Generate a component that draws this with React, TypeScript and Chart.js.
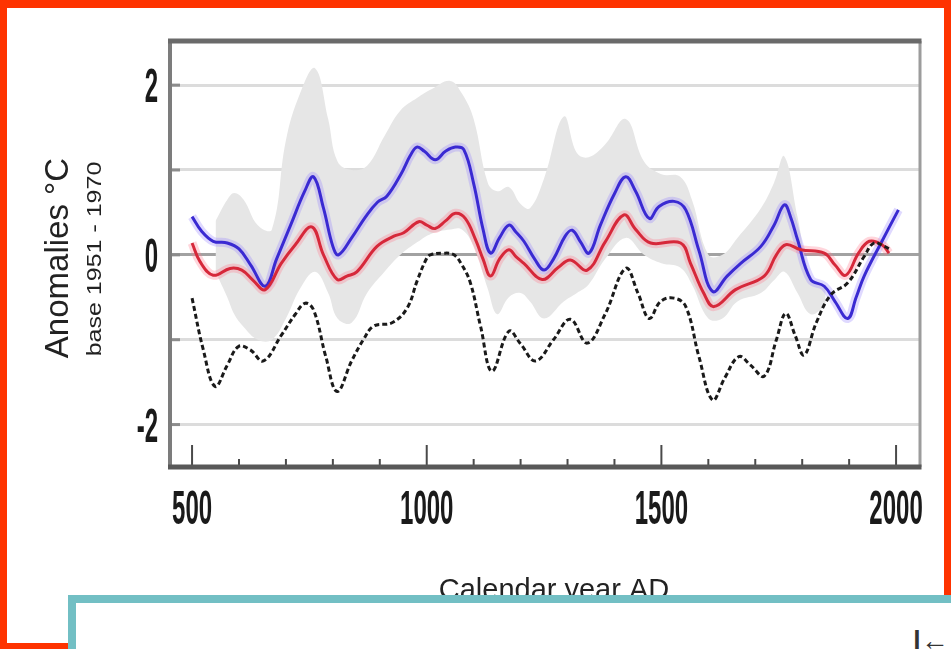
import React, { useEffect, useRef } from "react";
import { Chart, registerables } from "chart.js";

Chart.register(...registerables);

// ---- data ----
const xTickLabels = [500, 1000, 1500, 2000];
const xMinorTicks = [500, 600, 700, 800, 900, 1000, 1100, 1200, 1300, 1400, 1500, 1600, 1700, 1800, 1900, 2000];
const yGridValues = [-2, -1, 0, 1, 2];
const yTickLabels = [-2, 0, 2];

const bandYears = [550, 575, 590, 610, 640, 670, 700, 730, 762, 790, 810, 840, 873, 910, 944, 980, 1010, 1050, 1075, 1100, 1130, 1150, 1175, 1200, 1220, 1250, 1292, 1320, 1345, 1380, 1424, 1463, 1500, 1540, 1565, 1600, 1630, 1662, 1712, 1740, 1762, 1790, 1818, 1850];
const bandUpper = [0.40, 0.65, 0.73, 0.65, 0.35, 0.30, 1.35, 1.90, 2.20, 1.60, 1.10, 1.00, 1.05, 1.40, 1.70, 1.85, 1.95, 2.05, 1.90, 1.60, 0.85, 0.75, 0.80, 0.60, 0.55, 0.90, 1.63, 1.20, 1.15, 1.30, 1.60, 1.10, 0.95, 0.92, 0.65, 0.00, 0.00, 0.20, 0.55, 0.85, 1.16, 0.45, -0.25, -0.40];
const bandLower = [-0.20, -0.50, -0.70, -0.85, -1.00, -1.00, -0.75, -0.40, -0.20, -0.45, -0.75, -0.80, -0.45, -0.20, 0.00, 0.15, 0.25, 0.30, 0.30, 0.10, -0.40, -0.70, -0.50, -0.45, -0.55, -0.75, -0.55, -0.45, -0.35, -0.05, 0.20, 0.00, -0.10, -0.15, -0.35, -0.75, -0.75, -0.55, -0.45, -0.30, -0.20, -0.45, -0.70, -0.60];

const blueYears = [500, 520, 545, 575, 600, 625, 656, 680, 710, 740, 759, 780, 800, 812, 840, 870, 895, 915, 945, 965, 979, 995, 1018, 1040, 1061, 1079, 1100, 1120, 1136, 1155, 1175, 1190, 1207, 1230, 1250, 1270, 1295, 1310, 1328, 1346, 1370, 1400, 1424, 1445, 1474, 1495, 1527, 1552, 1580, 1609, 1640, 1669, 1712, 1740, 1762, 1775, 1790, 1818, 1847, 1870, 1897, 1915, 1932, 1968, 2005];
const blueValues = [0.45, 0.28, 0.16, 0.14, 0.07, -0.12, -0.37, -0.05, 0.35, 0.75, 0.92, 0.55, 0.10, 0.00, 0.20, 0.45, 0.62, 0.69, 0.95, 1.17, 1.27, 1.22, 1.12, 1.22, 1.27, 1.24, 0.84, 0.30, 0.02, 0.20, 0.35, 0.27, 0.16, -0.05, -0.18, -0.05, 0.22, 0.29, 0.15, 0.02, 0.35, 0.72, 0.92, 0.75, 0.43, 0.57, 0.63, 0.53, 0.05, -0.43, -0.25, -0.10, 0.10, 0.35, 0.59, 0.45, 0.18, -0.29, -0.37, -0.55, -0.75, -0.50, -0.25, 0.14, 0.53];

const redYears = [500, 517, 545, 581, 606, 630, 656, 690, 720, 755, 780, 809, 830, 851, 894, 930, 951, 983, 1000, 1018, 1040, 1061, 1082, 1104, 1120, 1136, 1155, 1175, 1190, 1207, 1246, 1280, 1306, 1342, 1380, 1420, 1445, 1477, 1541, 1562, 1590, 1612, 1658, 1719, 1745, 1765, 1797, 1847, 1870, 1893, 1920, 1943, 1970, 1985];
const redValues = [0.14, -0.08, -0.24, -0.16, -0.18, -0.30, -0.41, -0.10, 0.12, 0.33, 0.00, -0.29, -0.25, -0.20, 0.10, 0.22, 0.26, 0.39, 0.35, 0.31, 0.40, 0.49, 0.43, 0.18, -0.05, -0.25, -0.05, 0.06, -0.02, -0.10, -0.29, -0.15, -0.06, -0.18, 0.15, 0.47, 0.30, 0.14, 0.14, -0.10, -0.45, -0.61, -0.41, -0.25, 0.00, 0.12, 0.06, 0.02, -0.12, -0.24, 0.02, 0.16, 0.12, 0.02];

const blackYears = [500, 524, 549, 575, 599, 624, 652, 690, 720, 741, 759, 785, 809, 840, 865, 887, 926, 958, 980, 1000, 1008, 1035, 1058, 1075, 1093, 1115, 1139, 1175, 1200, 1232, 1270, 1306, 1342, 1380, 1424, 1450, 1474, 1498, 1527, 1552, 1580, 1609, 1635, 1665, 1690, 1719, 1745, 1765, 1785, 1804, 1830, 1861, 1897, 1932, 1953, 1975, 1989];
const blackValues = [-0.51, -1.12, -1.55, -1.30, -1.08, -1.12, -1.25, -0.95, -0.70, -0.57, -0.65, -1.20, -1.61, -1.25, -1.00, -0.84, -0.80, -0.63, -0.30, -0.04, 0.00, 0.02, 0.00, -0.12, -0.33, -0.85, -1.37, -0.90, -1.05, -1.25, -1.00, -0.76, -1.04, -0.70, -0.16, -0.45, -0.75, -0.55, -0.51, -0.61, -1.20, -1.71, -1.45, -1.20, -1.30, -1.43, -1.00, -0.69, -0.95, -1.18, -0.80, -0.47, -0.33, -0.02, 0.14, 0.10, 0.06];

const xTitle = "Calendar year AD";
const yTitle = "Anomalies °C";
const ySubTitle = "base 1951 - 1970";

const pts = (xs: number[], ys: number[]) => xs.map((x, i) => ({ x, y: ys[i] }));

const FONT = '"Liberation Sans", Arial, Helvetica, sans-serif';

const plotBoxPlugin = {
  id: "plotBox",
  afterDatasetsDraw(chart: any) {
    const { ctx, chartArea: a, scales } = chart;
    const xs = scales.x;
    const ys = scales.y;
    ctx.save();

    // y inner tick marks
    ctx.strokeStyle = "#8c8c8c";
    ctx.lineWidth = 3;
    yGridValues.forEach((v) => {
      const py = ys.getPixelForValue(v);
      ctx.beginPath();
      ctx.moveTo(a.left, py);
      ctx.lineTo(a.left + 10, py);
      ctx.stroke();
    });

    // x tick marks (minor and major)
    ctx.strokeStyle = "#4a4a4a";
    ctx.lineWidth = 2;
    xMinorTicks.forEach((v) => {
      const px = xs.getPixelForValue(v);
      const len = xTickLabels.includes(v) ? 22 : 8;
      ctx.beginPath();
      ctx.moveTo(px, a.bottom);
      ctx.lineTo(px, a.bottom - len);
      ctx.stroke();
    });

    // plot frame
    const line = (x1: number, y1: number, x2: number, y2: number, c: string, w: number) => {
      ctx.strokeStyle = c;
      ctx.lineWidth = w;
      ctx.beginPath();
      ctx.moveTo(x1, y1);
      ctx.lineTo(x2, y2);
      ctx.stroke();
    };
    line(a.right, a.top, a.right, a.bottom, "#9c9c9c", 3);
    line(a.left, a.top, a.left, a.bottom, "#7c7c7c", 4);
    line(a.left - 2, a.top, a.right + 1.5, a.top, "#6a6a6a", 5);
    line(a.left - 2, a.bottom, a.right + 1.5, a.bottom, "#585858", 5);

    // tick labels (condensed look)
    ctx.fillStyle = "#1a1a1a";
    ctx.font = `bold 48px ${FONT}`;
    ctx.textBaseline = "alphabetic";
    xTickLabels.forEach((v) => {
      const px = xs.getPixelForValue(v);
      ctx.save();
      ctx.translate(px, a.bottom + 57);
      ctx.scale(0.5, 1);
      ctx.textAlign = "center";
      ctx.fillText(String(v), 0, 0);
      ctx.restore();
    });
    yTickLabels.forEach((v) => {
      const py = ys.getPixelForValue(v);
      ctx.save();
      ctx.translate(a.left - 12, py + 17);
      ctx.scale(0.5, 1);
      ctx.textAlign = "right";
      ctx.fillText(String(v), 0, 0);
      ctx.restore();
    });

    // axis titles
    ctx.fillStyle = "#222";
    ctx.textAlign = "center";
    ctx.font = `29px ${FONT}`;
    ctx.fillText(xTitle, (a.left + a.right) / 2 + 9, a.bottom + 132);

    const midY = (a.top + a.bottom) / 2;
    ctx.save();
    ctx.translate(68, midY + 4);
    ctx.rotate(-Math.PI / 2);
    ctx.font = `33px ${FONT}`;
    ctx.fillText(yTitle, 0, 0);
    ctx.restore();

    ctx.save();
    ctx.translate(101, midY + 5);
    ctx.rotate(-Math.PI / 2);
    ctx.scale(1.25, 1);
    ctx.font = `20px ${FONT}`;
    ctx.fillText(ySubTitle, 0, 0);
    ctx.restore();

    ctx.restore();
  },
};

export default function App() {
  const canvasRef = useRef<HTMLCanvasElement | null>(null);

  useEffect(() => {
    const canvas = canvasRef.current;
    if (!canvas) return;
    const common = { pointRadius: 0, pointHoverRadius: 0, tension: 0.4, fill: false };
    const chart = new Chart(canvas, {
      type: "line",
      data: {
        datasets: [
          { ...common, label: "proxy", data: pts(blackYears, blackValues), borderColor: "#1a1a1a", borderWidth: 3, borderDash: [5, 3] },
          { ...common, label: "red", data: pts(redYears, redValues), borderColor: "#d6283a", borderWidth: 3 },
          { ...common, label: "blue", data: pts(blueYears, blueValues), borderColor: "#3a2ad2", borderWidth: 3 },
          { ...common, label: "red halo", data: pts(redYears, redValues), borderColor: "rgba(255,120,140,0.3)", borderWidth: 9 },
          { ...common, label: "blue halo", data: pts(blueYears, blueValues), borderColor: "rgba(150,130,255,0.3)", borderWidth: 9 },
          { ...common, label: "band lower", data: pts(bandYears, bandLower), borderWidth: 0, borderColor: "rgba(0,0,0,0)", backgroundColor: "#e6e6e6", fill: { target: 6 } },
          { ...common, label: "band upper", data: pts(bandYears, bandUpper), borderWidth: 0, borderColor: "rgba(0,0,0,0)" },
        ],
      },
      plugins: [plotBoxPlugin],
      options: {
        animation: false,
        responsive: false,
        devicePixelRatio: 1,
        layout: { padding: { left: 170, top: 41, right: 31, bottom: 182 } },
        plugins: { legend: { display: false }, tooltip: { enabled: false } },
        events: [],
        scales: {
          x: {
            type: "linear",
            min: 453,
            max: 2051,
            ticks: { display: false },
            grid: { display: false, drawTicks: false },
            border: { display: false },
          },
          y: {
            type: "linear",
            min: -2.5,
            max: 2.52,
            afterBuildTicks: (scale: any) => {
              scale.ticks = yGridValues.map((value) => ({ value }));
            },
            ticks: { display: false },
            grid: {
              drawTicks: false,
              lineWidth: 3,
              color: (c: any) => (c.tick && c.tick.value === 0 ? "#a2a2a2" : "#dcdcdc"),
            },
            border: { display: false },
          },
        },
      },
    } as any);
    return () => chart.destroy();
  }, []);

  return (
    <div style={{ position: "absolute", left: 0, top: 0, width: 951, height: 649, overflow: "hidden", background: "#fff" }}>
      <div style={{ position: "absolute", left: 0, top: 0, width: 951, height: 649, boxSizing: "border-box", borderStyle: "solid", borderColor: "#fe3300", borderWidth: "8px 7px 6px 7px" }} />
      <canvas ref={canvasRef} width={951} height={649} style={{ position: "absolute", left: 0, top: 0, width: 951, height: 649 }} />
      <div style={{ position: "absolute", left: 68, top: 595, width: 920, height: 100, boxSizing: "border-box", border: "8px solid #72bfc4", background: "#fff" }} />
      <div style={{ position: "absolute", left: 913, top: 627, width: 80, whiteSpace: "nowrap", fontFamily: FONT, fontSize: 28, fontWeight: "bold", color: "#333", lineHeight: 1 }}>|←</div>
    </div>
  );
}
